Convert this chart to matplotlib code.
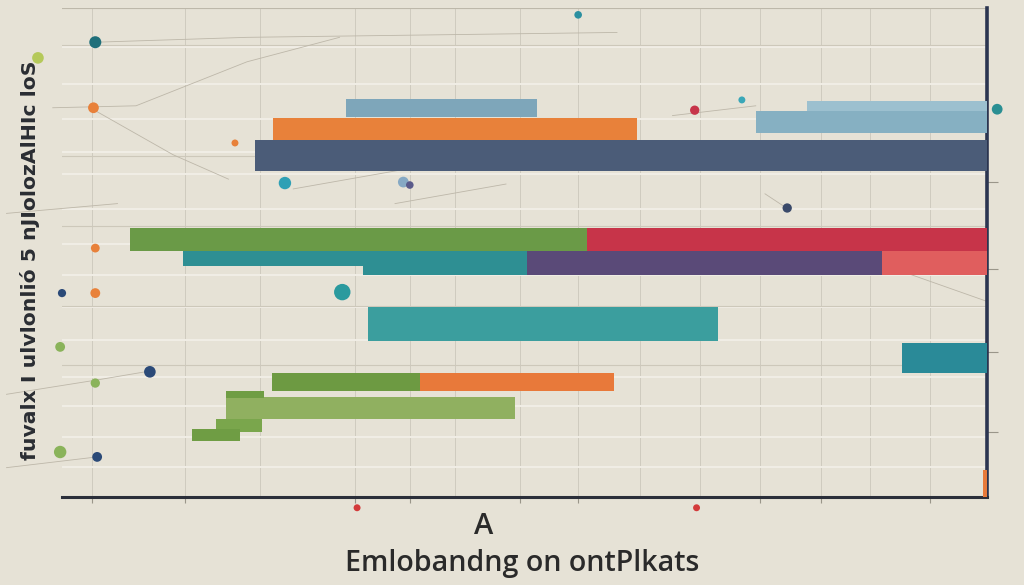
import matplotlib
matplotlib.use("Agg")
import matplotlib.pyplot as plt

BG = "#e6e2d6"

# Floating horizontal bars: start, end, bottom, top (data units)
bar_start = [30.7, 75.0, 80.5, 22.8, 20.9, 7.4, 56.8, 13.1, 32.5, 50.3, 88.6, 33.1, 90.8, 22.7, 38.7, 17.7, 16.6, 14.0, 17.7, 99.6]
bar_end   = [51.4, 100.0, 100.0, 62.2, 100.0, 56.8, 100.0, 32.5, 50.3, 88.6, 100.0, 70.9, 100.0, 38.7, 59.7, 49.0, 21.6, 19.2, 21.8, 100.0]
bar_bottom = [77.7, 74.4, 79.0, 73.0, 66.7, 50.3, 50.3, 47.2, 45.4, 45.4, 45.4, 31.9, 25.4, 21.7, 21.7, 16.0, 13.3, 11.5, 20.2, 0.0]
bar_top    = [81.4, 79.0, 81.0, 77.5, 73.0, 55.0, 55.0, 50.3, 50.3, 50.3, 50.3, 38.9, 31.5, 25.4, 25.4, 20.4, 16.0, 13.9, 21.6, 5.5]
bar_colors = ["#7ea6ba", "#86b0c2", "#9cc0cf", "#e8813a", "#4b5c78", "#6a9a47", "#c73449",
              "#2e8f93", "#2e8f93", "#5a4a78", "#e05e5e", "#3b9e9e", "#2a8a98", "#6d9a42",
              "#e8793a", "#90b060", "#7aa64c", "#6f9d44", "#6f9d44", "#e87a3a"]

# Decorative scattered points
dot_x = [3.6, -2.6, 3.4, 55.8, 68.4, 73.5, 101.1, 24.1, 36.9, 30.3, 9.5, 3.8, -0.2, 3.6, 0.0, 3.6, -0.2, 3.6, 78.4, 31.9, 68.6, 37.6, 18.7]
dot_y = [93.0, 89.8, 79.6, 98.6, 79.1, 81.2, 79.3, 64.2, 64.4, 41.9, 25.6, 8.2, 9.2, 41.7, 41.7, 50.9, 30.7, 23.3, 59.1, -2.2, -2.2, 63.8, 72.4]
dot_size = [75, 70, 60, 30, 45, 25, 60, 80, 60, 140, 70, 50, 80, 50, 35, 40, 50, 45, 45, 25, 25, 30, 25]
dot_colors = ["#1f6f7a", "#b5c95a", "#e8813a", "#2a8fa0", "#c73449", "#3aa7b8", "#2a8f93", "#2fa0b5",
              "#86a9c4", "#2a9a9e", "#2b4a78", "#2b4a78", "#8ab35a", "#e8813a", "#2b4a78", "#e8813a",
              "#8ab35a", "#8ab35a", "#3a4a6a", "#d33a3a", "#d33a3a", "#5a5a8a", "#e8813a"]

title_small = "A"
title_main = "Emlobandng on ontPlkats"
ylabel_text = "fuvalx I ulvlonlió 5 nJIolozAlHIc loS"

fig = plt.figure(figsize=(10.24, 5.85), dpi=100, facecolor=BG)
ax = fig.add_axes([62 / 1024, 1 - 497 / 585, 925 / 1024, 489 / 585])
ax.set_facecolor(BG)
ax.set_xlim(0, 100)
ax.set_ylim(0, 100)

# grid
for gx in [3.2, 13.3, 21.4, 31.7, 37.6, 42.5, 49.5, 55.8, 62.5, 69.0, 75.5, 82.0, 87.4, 93.8]:
    ax.axvline(gx, color="#cfcbbf", lw=0.7, zorder=0)
for gy in [6.1, 12.3, 18.6, 24.5, 32.1, 38.9, 45.4, 51.7, 58.9, 66.1, 70.5, 77.3, 84.5, 92.0]:
    ax.axhline(gy, color="#f1eee6", lw=1.4, zorder=0)
for gy in [27.0, 39.1, 55.4, 69.8, 92.5]:
    ax.axhline(gy, color="#cdc8ba", lw=0.8, zorder=0)
ax.axhline(100, color="#bdb8aa", lw=0.8, zorder=0)

# decorative thin lines
deco = [([-1, 8, 20, 30], [79.6, 80, 89, 94]), ([3.6, 12, 18], [79, 70, 65]),
        ([-6, 0, 6], [58, 59, 60]), ([25, 40], [63, 68]), ([66, 75], [78, 80]),
        ([-6, 4, 9], [21, 24, 25.6]), ([-6, 3.8], [6, 8.2]), ([88, 100], [48, 40]),
        ([36, 48], [60, 64]), ([76, 78.4], [62, 59]), ([3.6, 20, 60], [93, 94, 95])]
for xs, ys in deco:
    ax.plot(xs, ys, color="#bdb7a9", lw=0.6, zorder=1, clip_on=False)

# bars
for s, e, b, t, c in zip(bar_start, bar_end, bar_bottom, bar_top, bar_colors):
    ax.barh((b + t) / 2, e - s, height=t - b, left=s, color=c, zorder=3, linewidth=0)

# dots
ax.scatter(dot_x, dot_y, s=dot_size, c=dot_colors, zorder=4, clip_on=False, linewidths=0)

# axes frame
for sp in ["top", "left"]:
    ax.spines[sp].set_visible(False)
ax.spines["bottom"].set_color("#2b2f3a")
ax.spines["bottom"].set_linewidth(2.2)
ax.spines["right"].set_color("#2b3550")
ax.spines["right"].set_linewidth(2.6)
ax.set_xticks([3.2, 13.3, 31.7, 37.6, 49.5, 55.8, 75.5, 82.0, 93.8])
ax.set_xticklabels([""] * 9)
ax.tick_params(axis="x", length=4, color="#9a968a", width=0.8)
ax.yaxis.tick_right()
ax.set_yticks([64.4, 46.6, 29.7, 13.3])
ax.set_yticklabels([""] * 4)
ax.tick_params(axis="y", length=8, color="#9a968a", width=0.8)

fig.text(30 / 1024, 1 - 260 / 585, ylabel_text, rotation=90, ha="center", va="center",
         fontsize=14.7, color="#2a2d33", family="DejaVu Sans", fontweight="semibold")
fig.text(484 / 1024, 1 - 527 / 585, title_small, ha="center", va="center", fontsize=21, color="#2a2a2a",
         family="Open Sans", fontweight="semibold")
fig.text(522 / 1024, 1 - 563 / 585, title_main, ha="center", va="center", fontsize=20.6, color="#2a2a2a",
         family="Open Sans", fontweight="semibold")

fig.savefig("out.png", dpi=100, facecolor=BG)
